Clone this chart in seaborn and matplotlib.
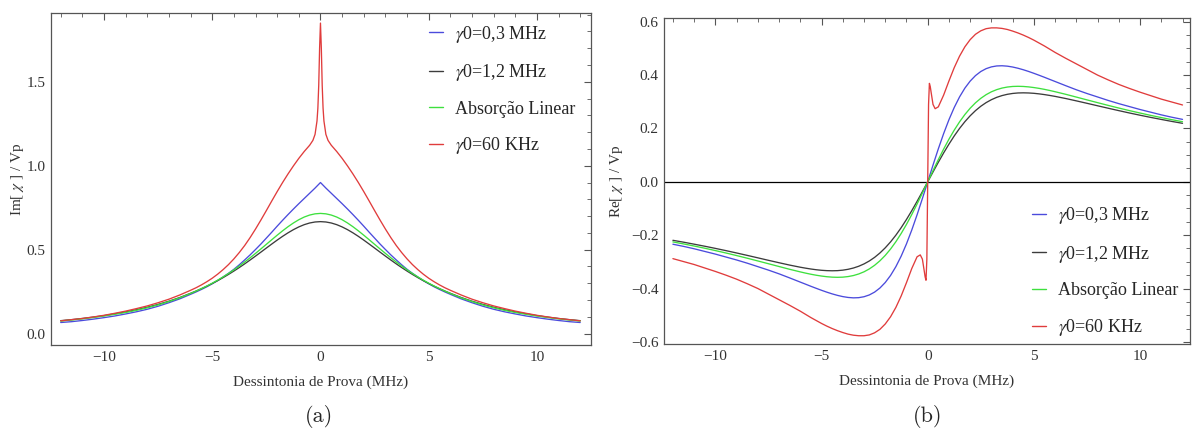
import numpy as np
import pandas as pd
import matplotlib
matplotlib.use("Agg")
import matplotlib.pyplot as plt
from matplotlib.ticker import MultipleLocator, FuncFormatter
import seaborn as sns

# ---------------- data ----------------
X = [-12, -11.5, -11, -10.5, -10, -9.5, -9, -8.5, -8, -7.5, -7, -6.5, -6, -5.75, -5.5, -5.25,
     -5, -4.75, -4.5, -4.25, -4, -3.75, -3.5, -3.25, -3, -2.75, -2.5, -2.25, -2, -1.75, -1.5,
     -1.25, -1, -0.75, -0.5, -0.25,
     0,
     0.25, 0.5, 0.75, 1, 1.25, 1.5, 1.75, 2, 2.25, 2.5, 2.75, 3, 3.25, 3.5, 3.75, 4, 4.25,
     4.5, 4.75, 5, 5.25, 5.5, 5.75, 6, 6.5, 7, 7.5, 8, 8.5, 9, 9.5, 10, 10.5, 11, 11.5, 12]

X_RED = [-12, -11.5, -11, -10.5, -10, -9.5, -9, -8.5, -8, -7.5, -7, -6.5, -6, -5.75, -5.5,
         -5.25, -5, -4.75, -4.5, -4.25, -4, -3.75, -3.5, -3.25, -3, -2.75, -2.5, -2.25, -2,
         -1.75, -1.5, -1.25, -1, -0.75, -0.5, -0.35, -0.25, -0.16, -0.12, -0.08, -0.04,
         0,
         0.04, 0.08, 0.12, 0.16, 0.25, 0.35, 0.5, 0.75, 1, 1.25, 1.5, 1.75, 2, 2.25, 2.5,
         2.75, 3, 3.25, 3.5, 3.75, 4, 4.25, 4.5, 4.75, 5, 5.25, 5.5, 5.75, 6, 6.5, 7, 7.5, 8,
         8.5, 9, 9.5, 10, 10.5, 11, 11.5, 12]

# Im[chi]/Vp  (panel a)
IM_BLUE = [0.066, 0.071, 0.078, 0.086, 0.095, 0.105, 0.117, 0.130, 0.145, 0.163, 0.184, 0.207,
           0.234, 0.248, 0.263, 0.279, 0.297, 0.316, 0.337, 0.359, 0.383, 0.410, 0.439, 0.469,
           0.501, 0.534, 0.569, 0.604, 0.640, 0.675, 0.709, 0.742, 0.774, 0.805, 0.836, 0.867,
           0.900,
           0.867, 0.836, 0.805, 0.774, 0.742, 0.709, 0.675, 0.640, 0.604, 0.569, 0.534, 0.501,
           0.469, 0.439, 0.410, 0.383, 0.359, 0.337, 0.316, 0.297, 0.279, 0.263, 0.248, 0.234,
           0.207, 0.184, 0.163, 0.145, 0.130, 0.117, 0.105, 0.095, 0.086, 0.078, 0.071, 0.066]
IM_BLACK = [0.077, 0.083, 0.090, 0.098, 0.107, 0.118, 0.129, 0.142, 0.157, 0.174, 0.193, 0.215,
            0.2401, 0.2534, 0.2675, 0.2825, 0.2985, 0.3155, 0.3335, 0.3525, 0.3726, 0.3936,
            0.4156, 0.4384, 0.4618, 0.4856, 0.5097, 0.5336, 0.5570, 0.5794, 0.6003, 0.6192,
            0.6356, 0.6490, 0.6589, 0.6649,
            0.667,
            0.6649, 0.6589, 0.6490, 0.6356, 0.6192, 0.6003, 0.5794, 0.5570, 0.5336, 0.5097,
            0.4856, 0.4618, 0.4384, 0.4156, 0.3936, 0.3726, 0.3525, 0.3335, 0.3155, 0.2985,
            0.2825, 0.2675, 0.2534, 0.2401, 0.215, 0.193, 0.174, 0.157, 0.142, 0.129, 0.118,
            0.107, 0.098, 0.090, 0.083, 0.077]
IM_GREEN = [0.075, 0.081, 0.088, 0.096, 0.105, 0.115, 0.126, 0.139, 0.154, 0.171, 0.191, 0.213,
            0.2392, 0.2529, 0.2677, 0.2834, 0.3003, 0.3183, 0.3375, 0.3580, 0.3797, 0.4025,
            0.4266, 0.4518, 0.4779, 0.5047, 0.5319, 0.5592, 0.5862, 0.6122, 0.6367, 0.6590,
            0.6784, 0.6944, 0.7062, 0.7135,
            0.716,
            0.7135, 0.7062, 0.6944, 0.6784, 0.6590, 0.6367, 0.6122, 0.5862, 0.5592, 0.5319,
            0.5047, 0.4779, 0.4518, 0.4266, 0.4025, 0.3797, 0.3580, 0.3375, 0.3183, 0.3003,
            0.2834, 0.2677, 0.2529, 0.2392, 0.213, 0.191, 0.171, 0.154, 0.139, 0.126, 0.115,
            0.105, 0.096, 0.088, 0.081, 0.075]
IM_RED = [0.076, 0.083, 0.090, 0.099, 0.109, 0.121, 0.134, 0.149, 0.165, 0.184, 0.205, 0.230,
          0.258, 0.273, 0.290, 0.309, 0.330, 0.354, 0.381, 0.411, 0.445, 0.483, 0.525, 0.572,
          0.623, 0.677, 0.733, 0.790, 0.846, 0.900, 0.951, 0.999, 1.044, 1.085, 1.122, 1.151,
          1.187, 1.267, 1.343, 1.480, 1.700,
          1.850,
          1.700, 1.480, 1.343, 1.267, 1.187, 1.151, 1.122, 1.085, 1.044, 0.999, 0.951, 0.900,
          0.846, 0.790, 0.733, 0.677, 0.623, 0.572, 0.525, 0.483, 0.445, 0.411, 0.381, 0.354,
          0.330, 0.309, 0.290, 0.273, 0.258, 0.230, 0.205, 0.184, 0.165, 0.149, 0.134, 0.121,
          0.109, 0.099, 0.090, 0.083, 0.076]

# Re[chi]/Vp  (panel b)
RE_BLUE = [-0.234, -0.242, -0.251, -0.261, -0.271, -0.282, -0.293, -0.305, -0.318, -0.331,
           -0.345, -0.3603, -0.3760, -0.3838, -0.3917, -0.3993, -0.4067, -0.4137, -0.4201,
           -0.4257, -0.4303, -0.4335, -0.4350, -0.4343, -0.4308, -0.4241, -0.4134, -0.3981,
           -0.3775, -0.3511, -0.3182, -0.2787, -0.2327, -0.1806, -0.1235, -0.0627,
           0.0,
           0.0627, 0.1235, 0.1806, 0.2327, 0.2787, 0.3182, 0.3511, 0.3775, 0.3981, 0.4134,
           0.4241, 0.4308, 0.4343, 0.4350, 0.4335, 0.4303, 0.4257, 0.4201, 0.4137, 0.4067,
           0.3993, 0.3917, 0.3838, 0.3760, 0.3603, 0.345, 0.331, 0.318, 0.305, 0.293, 0.282,
           0.271, 0.261, 0.251, 0.242, 0.234]
RE_BLACK = [-0.2193, -0.2263, -0.2338, -0.2415, -0.2496, -0.2580, -0.2668, -0.2758, -0.2850,
            -0.2943, -0.3034, -0.3122, -0.3202, -0.3237, -0.3269, -0.3296, -0.3317, -0.3330,
            -0.3335, -0.3330, -0.3312, -0.3280, -0.3232, -0.3166, -0.3078, -0.2968, -0.2832,
            -0.2668, -0.2475, -0.2253, -0.2001, -0.1720, -0.1412, -0.1082, -0.0732, -0.0369,
            0.0,
            0.0369, 0.0732, 0.1082, 0.1412, 0.1720, 0.2001, 0.2253, 0.2475, 0.2668, 0.2832,
            0.2968, 0.3078, 0.3166, 0.3232, 0.3280, 0.3312, 0.3330, 0.3335, 0.3330, 0.3317,
            0.3296, 0.3269, 0.3237, 0.3202, 0.3122, 0.3034, 0.2943, 0.2850, 0.2758, 0.2668,
            0.2580, 0.2496, 0.2415, 0.2338, 0.2263, 0.2193]
RE_GREEN = [-0.2253, -0.2328, -0.2407, -0.2490, -0.2578, -0.2669, -0.2765, -0.2864, -0.2967,
            -0.3071, -0.3176, -0.3280, -0.3377, -0.3423, -0.3465, -0.3502, -0.3533, -0.3558,
            -0.3574, -0.3580, -0.3574, -0.3552, -0.3514, -0.3455, -0.3374, -0.3266, -0.3129,
            -0.2961, -0.2759, -0.2521, -0.2247, -0.1938, -0.1597, -0.1226, -0.0831, -0.0420,
            0.0,
            0.0420, 0.0831, 0.1226, 0.1597, 0.1938, 0.2247, 0.2521, 0.2759, 0.2961, 0.3129,
            0.3266, 0.3374, 0.3455, 0.3514, 0.3552, 0.3574, 0.3580, 0.3574, 0.3558, 0.3533,
            0.3502, 0.3465, 0.3423, 0.3377, 0.3280, 0.3176, 0.3071, 0.2967, 0.2864, 0.2765,
            0.2669, 0.2578, 0.2490, 0.2407, 0.2328, 0.2253]
RE_RED = [-0.288, -0.299, -0.310, -0.323, -0.336, -0.350, -0.365, -0.382, -0.400, -0.421,
          -0.442, -0.463, -0.485, -0.497, -0.509, -0.520, -0.531, -0.541, -0.550, -0.558,
          -0.565, -0.571, -0.575, -0.577, -0.577, -0.574, -0.566, -0.553, -0.533, -0.506,
          -0.471, -0.428, -0.378, -0.325, -0.281, -0.274, -0.290, -0.336, -0.357, -0.369,
          -0.290,
          0.0,
          0.290, 0.369, 0.357, 0.336, 0.290, 0.274, 0.281, 0.325, 0.378, 0.428, 0.471, 0.506,
          0.533, 0.553, 0.566, 0.574, 0.577, 0.577, 0.575, 0.571, 0.565, 0.558, 0.550, 0.541,
          0.531, 0.520, 0.509, 0.497, 0.485, 0.463, 0.442, 0.421, 0.400, 0.382, 0.365, 0.350,
          0.336, 0.323, 0.310, 0.299, 0.288]

LABELS = [r"$\gamma$0=0,3 MHz", r"$\gamma$0=1,2 MHz", "Absorção Linear", r"$\gamma$0=60 KHz"]
COLORS = ["#4b4bdc", "#3c3c3c", "#3ee03e", "#e03c3c"]

X_TICKS = [-10, -5, 0, 5, 10]
XLABEL = "Dessintonia de Prova (MHz)"
YLABEL_A = r"Im[ $\chi$ ] / Vp"
YLABEL_B = r"Re[ $\chi$ ] / Vp"
CAPTIONS = ["(a)", "(b)"]

for arr in (IM_BLUE, IM_BLACK, IM_GREEN, RE_BLUE, RE_BLACK, RE_GREEN):
    assert len(arr) == len(X)
for arr in (IM_RED, RE_RED):
    assert len(arr) == len(X_RED)


def long_frame(series):
    rows = []
    for label, xs, ys in series:
        for xv, yv in zip(xs, ys):
            rows.append((xv, yv, label))
    return pd.DataFrame(rows, columns=["x", "y", "serie"])


df_a = long_frame([(LABELS[0], X, IM_BLUE), (LABELS[1], X, IM_BLACK),
                   (LABELS[2], X, IM_GREEN), (LABELS[3], X_RED, IM_RED)])
df_b = long_frame([(LABELS[0], X, RE_BLUE), (LABELS[1], X, RE_BLACK),
                   (LABELS[2], X, RE_GREEN), (LABELS[3], X_RED, RE_RED)])

# ---------------- style ----------------
sns.set_style("white")
plt.rcParams["font.family"] = ["Liberation Serif", "DejaVu Serif"]
plt.rcParams["mathtext.fontset"] = "stix"
plt.rcParams["axes.unicode_minus"] = True

fig = plt.figure(figsize=(11.94, 4.36), dpi=100)
ax_a = fig.add_axes([0.0427, 0.2087, 0.4523, 0.7615])
ax_b = fig.add_axes([0.5561, 0.2110, 0.4405, 0.7477])

palette = dict(zip(LABELS, COLORS))
FRAME = "#555555"


def minus_fmt(v, pos):
    s = "%.1f" % v
    if s == "-0.0":
        s = "0.0"
    return s.replace("-", "\u2212")


def int_fmt(v, pos):
    return ("%d" % round(v)).replace("-", "\u2212")


for ax, df in ((ax_a, df_a), (ax_b, df_b)):
    sns.lineplot(data=df, x="x", y="y", hue="serie", hue_order=LABELS, palette=palette,
                 estimator=None, sort=True, linewidth=0.95, ax=ax, legend=True)
    for sp in ax.spines.values():
        sp.set_color(FRAME)
        sp.set_linewidth(0.9)
    ax.tick_params(which="both", direction="in", top=True, right=True, color=FRAME,
                   labelsize=11, pad=4)
    ax.tick_params(which="major", length=5, width=0.8)
    ax.tick_params(which="minor", length=2.8, width=0.6)
    ax.set_xticks(X_TICKS)
    ax.xaxis.set_minor_locator(MultipleLocator(1))
    ax.xaxis.set_major_formatter(FuncFormatter(int_fmt))
    ax.yaxis.set_major_formatter(FuncFormatter(minus_fmt))
    ax.set_xlabel(XLABEL, fontsize=11, color="#333333", labelpad=8.5)
    ax.tick_params(labelcolor="#333333")

ax_a.set_xlim(-12.45, 12.5)
ax_a.set_ylim(-0.068, 1.91)
ax_a.yaxis.set_major_locator(MultipleLocator(0.5))
ax_a.yaxis.set_minor_locator(MultipleLocator(0.1))
ax_a.set_ylabel(YLABEL_A, fontsize=11, color="#333333", labelpad=0)

ax_b.set_xlim(-12.42, 12.35)
ax_b.set_ylim(-0.608, 0.614)
ax_b.yaxis.set_major_locator(MultipleLocator(0.2))
ax_b.yaxis.set_minor_locator(MultipleLocator(0.05))
ax_b.axhline(0, color="black", linewidth=0.9, zorder=1)
ax_b.set_ylabel(YLABEL_B, fontsize=11, color="#333333", labelpad=4)

for ax, anchor in ((ax_a, (0.70, 0.968)), (ax_b, (0.70, 0.4255))):
    leg = ax.legend(loc="upper left", bbox_to_anchor=anchor, frameon=False, fontsize=13,
                    handlelength=0.75, handletextpad=0.7, labelspacing=0.97, borderpad=0,
                    borderaxespad=0)
    for line in leg.get_lines():
        line.set_linewidth(1.0)

fig.text(0.267, 0.045, CAPTIONS[0], ha="center", va="center", fontsize=16,
         family=["cmr10", "DejaVu Serif"])
fig.text(0.777, 0.045, CAPTIONS[1], ha="center", va="center", fontsize=16,
         family=["cmr10", "DejaVu Serif"])

fig.savefig("out.png", dpi=100)
